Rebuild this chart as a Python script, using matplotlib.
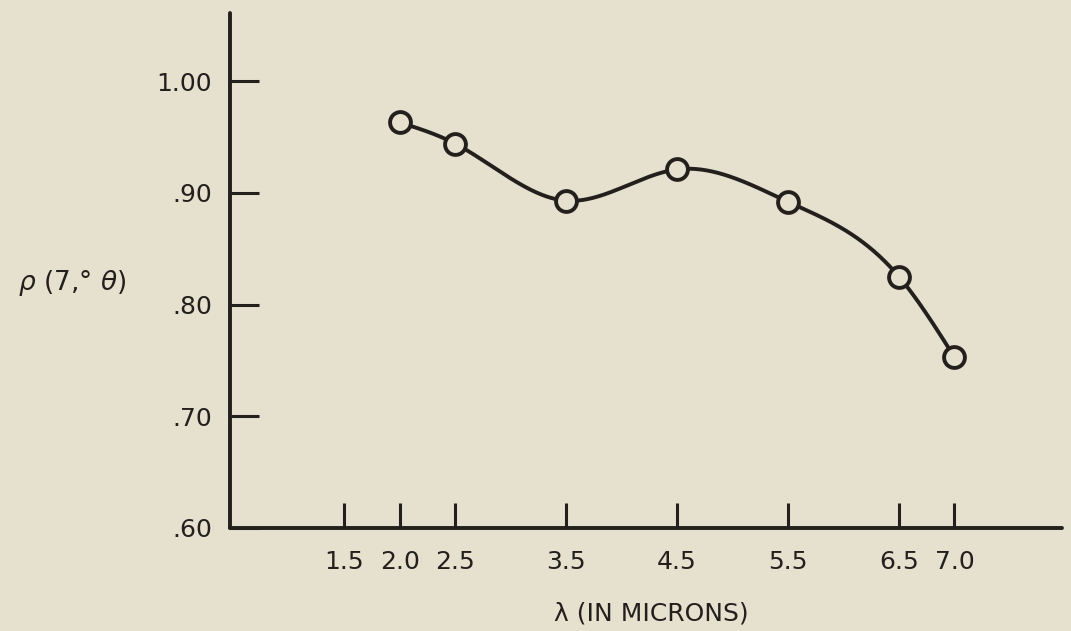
import numpy as np
import matplotlib
matplotlib.use("Agg")
import matplotlib.pyplot as plt

# Reflectance at 7 degrees incidence vs wavelength
wavelength = [2.0, 2.5, 3.5, 4.5, 5.5, 6.5, 7.0]
reflectance = [0.963, 0.944, 0.893, 0.921, 0.892, 0.825, 0.753]

x_ticks = [1.5, 2.0, 2.5, 3.5, 4.5, 5.5, 6.5, 7.0]
x_tick_labels = ["1.5", "2.0", "2.5", "3.5", "4.5", "5.5", "6.5", "7.0"]
y_ticks = [0.60, 0.70, 0.80, 0.90, 1.00]
y_tick_labels = [".60", ".70", ".80", ".90", "1.00"]


def natural_spline(x, y, n=400):
    """Natural cubic spline through (x, y), sampled at n points."""
    x = np.asarray(x, float)
    y = np.asarray(y, float)
    k = len(x)
    h = np.diff(x)
    A = np.zeros((k, k))
    b = np.zeros(k)
    A[0, 0] = A[-1, -1] = 1.0
    for i in range(1, k - 1):
        A[i, i - 1] = h[i - 1]
        A[i, i] = 2 * (h[i - 1] + h[i])
        A[i, i + 1] = h[i]
        b[i] = 3 * ((y[i + 1] - y[i]) / h[i] - (y[i] - y[i - 1]) / h[i - 1])
    c = np.linalg.solve(A, b)
    xs = np.linspace(x[0], x[-1], n)
    idx = np.clip(np.searchsorted(x, xs) - 1, 0, k - 2)
    dx = xs - x[idx]
    hi = h[idx]
    bi = (y[idx + 1] - y[idx]) / hi - hi * (2 * c[idx] + c[idx + 1]) / 3
    di = (c[idx + 1] - c[idx]) / (3 * hi)
    ys = y[idx] + bi * dx + c[idx] * dx ** 2 + di * dx ** 3
    return xs, ys


bg = "#e6e0cf"
ink = "#231f1c"
plt.rcParams["font.family"] = ["DejaVu Sans"]

fig = plt.figure(figsize=(10.71, 6.31), dpi=100, facecolor=bg)
ax = fig.add_axes([230 / 1071, 103 / 631, 832 / 1071, 515 / 631])
ax.set_facecolor(bg)

xs, ys = natural_spline(wavelength, reflectance)
ax.plot(xs, ys, color=ink, lw=2.8, solid_capstyle="round", zorder=2)
ax.plot(wavelength, reflectance, "o", ms=15, mfc=bg, mec=ink, mew=2.8,
        zorder=3, clip_on=False)

ax.set_xlim(0.47, 7.97)
ax.set_ylim(0.60, 1.061)

for side in ("top", "right"):
    ax.spines[side].set_visible(False)
for side in ("left", "bottom"):
    ax.spines[side].set_linewidth(2.8)
    ax.spines[side].set_color(ink)
    ax.spines[side].set_capstyle("round")

ax.set_xticks(x_ticks)
ax.set_xticklabels(x_tick_labels)
ax.set_yticks(y_ticks)
ax.set_yticklabels(y_tick_labels)
ax.tick_params(axis="x", direction="in", length=18, width=2.2, color=ink,
               pad=16, labelsize=18, labelcolor=ink)
ax.tick_params(axis="y", direction="in", length=21, width=2.2, color=ink,
               pad=13, labelsize=18, labelcolor=ink)

fig.text(72 / 1071, 1 - 283 / 631, r"$\rho$ (7,° $\theta$)", fontsize=19,
         color=ink, ha="center", va="center")
fig.text(651 / 1071, 1 - 614 / 631, "λ (IN MICRONS)", fontsize=18,
         color=ink, ha="center", va="center")

fig.savefig("out.png", dpi=100, facecolor=bg)
